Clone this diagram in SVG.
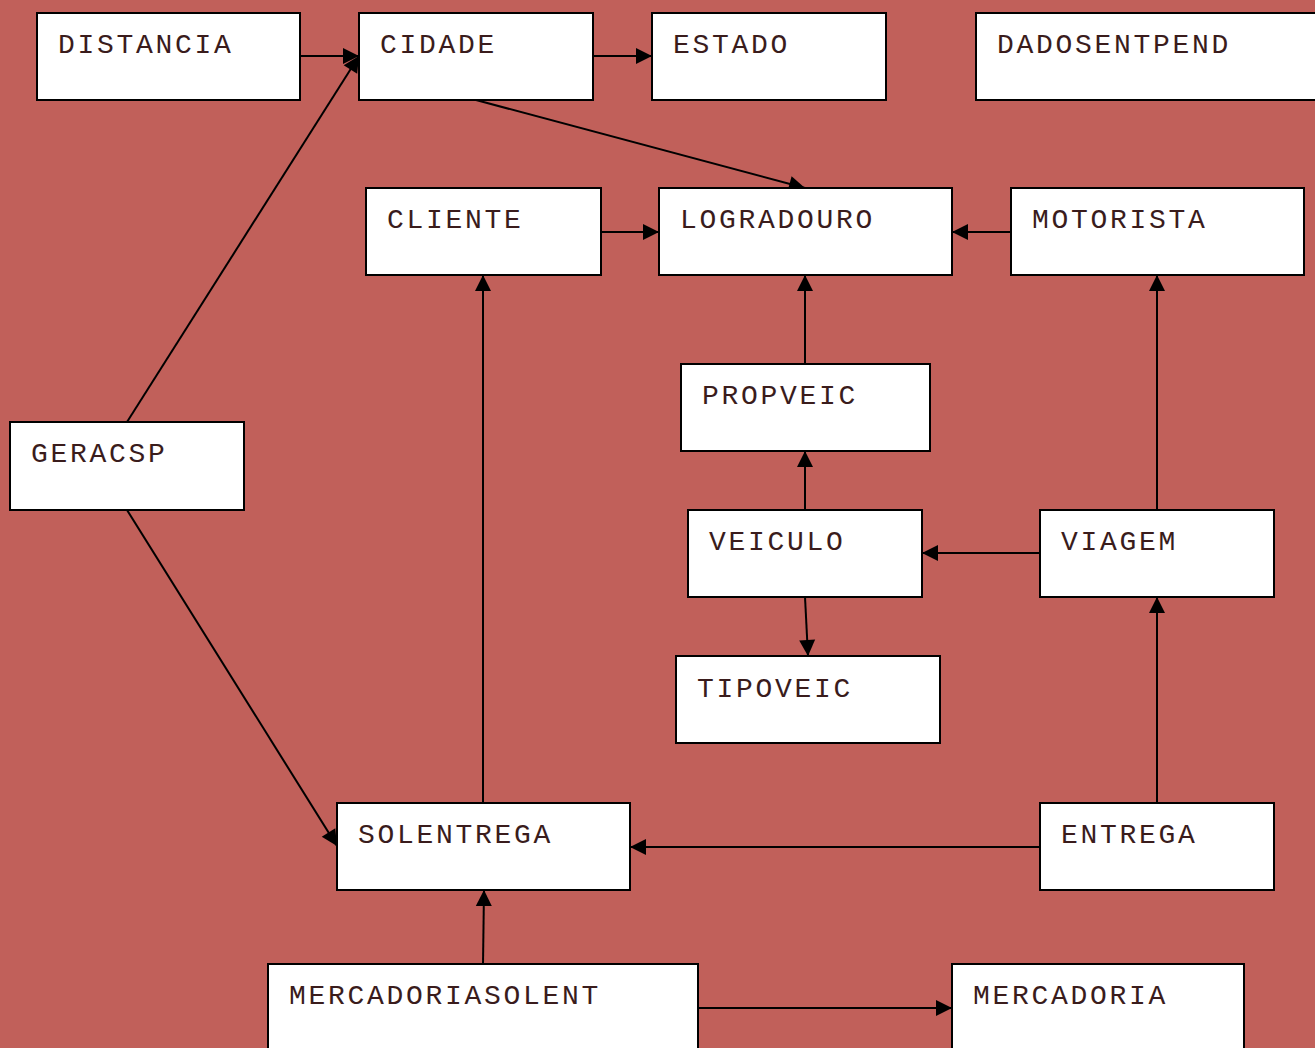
<svg xmlns="http://www.w3.org/2000/svg" width="1315" height="1048" viewBox="0 0 1315 1048">
<style>
.n rect{fill:#fff;stroke:#000;stroke-width:2}
.n text{font-family:"Liberation Mono","Courier New",monospace;font-size:28px;fill:#3a1c1c;letter-spacing:2.7px}
#edges line{stroke:#000;stroke-width:2;marker-end:url(#a)}
</style>
<defs>
<marker id="a" viewBox="0 0 10 10" refX="10" refY="5" markerWidth="8" markerHeight="8" markerUnits="userSpaceOnUse" orient="auto" style="overflow:visible">
<path d="M0,0 L10,5 L0,10 Z" fill="#000" transform="scale(2)" transform-origin="10 5"/>
</marker>
</defs>
<rect width="1315" height="1048" fill="#c1605a"/>
<g id="edges">
<line x1="300" y1="56" x2="359" y2="56"/>
<line x1="593" y1="56" x2="652" y2="56"/>
<line x1="476" y1="100" x2="805" y2="188"/>
<line x1="127" y1="422" x2="359" y2="56"/>
<line x1="127" y1="510" x2="337" y2="846"/>
<line x1="601" y1="232" x2="659" y2="232"/>
<line x1="1011" y1="232" x2="952" y2="232"/>
<line x1="805" y1="364" x2="805" y2="275"/>
<line x1="805" y1="510" x2="805" y2="451"/>
<line x1="805" y1="597" x2="808" y2="656"/>
<line x1="1040" y1="553" x2="922" y2="553"/>
<line x1="1157" y1="510" x2="1157" y2="275"/>
<line x1="1157" y1="803" x2="1157" y2="597"/>
<line x1="1040" y1="847" x2="630" y2="847"/>
<line x1="483" y1="803" x2="483" y2="275"/>
<line x1="483" y1="964" x2="484" y2="890"/>
<line x1="698" y1="1008" x2="952" y2="1008"/>
</g>
<g id="DISTANCIA" class="n"><rect x="37" y="13" width="263" height="87"/><text x="58" y="53">DISTANCIA</text></g>
<g id="CIDADE" class="n"><rect x="359" y="13" width="234" height="87"/><text x="380" y="53">CIDADE</text></g>
<g id="ESTADO" class="n"><rect x="652" y="13" width="234" height="87"/><text x="673" y="53">ESTADO</text></g>
<g id="DADOSENTPEND" class="n"><rect x="976" y="13" width="350" height="87"/><text x="997" y="53">DADOSENTPEND</text></g>
<g id="CLIENTE" class="n"><rect x="366" y="188" width="235" height="87"/><text x="387" y="228">CLIENTE</text></g>
<g id="LOGRADOURO" class="n"><rect x="659" y="188" width="293" height="87"/><text x="680" y="228">LOGRADOURO</text></g>
<g id="MOTORISTA" class="n"><rect x="1011" y="188" width="293" height="87"/><text x="1032" y="228">MOTORISTA</text></g>
<g id="PROPVEIC" class="n"><rect x="681" y="364" width="249" height="87"/><text x="702" y="404">PROPVEIC</text></g>
<g id="GERACSP" class="n"><rect x="10" y="422" width="234" height="88"/><text x="31" y="462">GERACSP</text></g>
<g id="VEICULO" class="n"><rect x="688" y="510" width="234" height="87"/><text x="709" y="550">VEICULO</text></g>
<g id="VIAGEM" class="n"><rect x="1040" y="510" width="234" height="87"/><text x="1061" y="550">VIAGEM</text></g>
<g id="TIPOVEIC" class="n"><rect x="676" y="656" width="264" height="87"/><text x="697" y="697">TIPOVEIC</text></g>
<g id="SOLENTREGA" class="n"><rect x="337" y="803" width="293" height="87"/><text x="358" y="843">SOLENTREGA</text></g>
<g id="ENTREGA" class="n"><rect x="1040" y="803" width="234" height="87"/><text x="1061" y="843">ENTREGA</text></g>
<g id="MERCADORIASOLENT" class="n"><rect x="268" y="964" width="430" height="100"/><text x="289" y="1004">MERCADORIASOLENT</text></g>
<g id="MERCADORIA" class="n"><rect x="952" y="964" width="292" height="100"/><text x="973" y="1004">MERCADORIA</text></g>
</svg>
